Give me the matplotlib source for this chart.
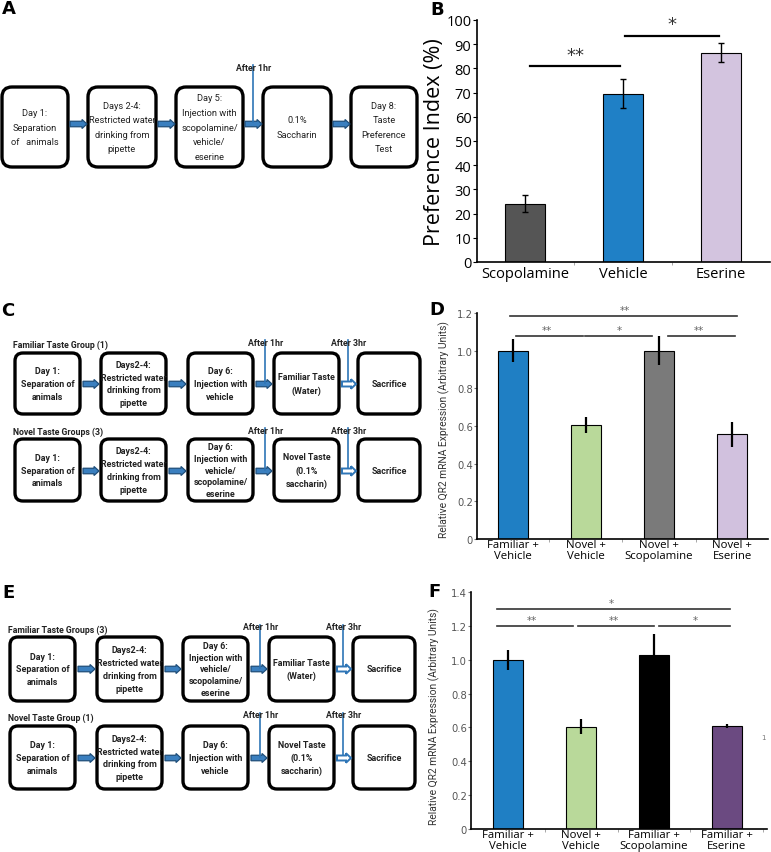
import matplotlib
matplotlib.use("Agg")
import matplotlib.pyplot as plt
from matplotlib.patches import FancyBboxPatch, FancyArrow
from matplotlib.ticker import FixedLocator, FixedFormatter
import numpy as np

# ---------------- data ----------------
b_cats = ["Scopolamine", "Vehicle", "Eserine"]
b_vals = [24.0, 69.5, 86.5]
b_errs = [3.5, 6.0, 4.0]
b_colors = ["#555555", "#1f80c6", "#d3c4df"]
b_sig = [(0.05, 0.97, 81, "**"), (1.02, 1.98, 93.5, "*")]

d_cats = ["Familiar +\nVehicle", "Novel +\nVehicle", "Novel +\nScopolamine", "Novel +\nEserine"]
d_vals = [1.0, 0.605, 1.0, 0.555]
d_errs = [0.06, 0.042, 0.077, 0.065]
d_colors = ["#1f7fc4", "#b9d99a", "#7a7a7a", "#d1c1de"]
d_sig = [(-0.04, 3.07, 1.185, "**", 1.53), (0.04, 0.96, 1.08, "**", 0.47),
         (0.99, 1.90, 1.08, "*", 1.45), (2.12, 3.04, 1.08, "**", 2.55)]

f_cats = ["Familiar +\nVehicle", "Novel +\nVehicle", "Familiar +\nScopolamine", "Familiar +\nEserine"]
f_vals = [1.0, 0.605, 1.03, 0.61]
f_errs = [0.06, 0.042, 0.12, 0.012]
f_colors = ["#1f7fc4", "#b9d99a", "#000000", "#6b4a81"]
f_sig = [(-0.15, 3.04, 1.30, "*", 1.42), (-0.15, 0.89, 1.20, "**", 0.32),
         (0.96, 2.00, 1.20, "**", 1.45), (2.07, 3.04, 1.20, "*", 2.56)]

d_yticks = [0, 0.2, 0.4, 0.6, 0.8, 1.0, 1.2]
d_yticklabels = ["0", "0.2", "0.4", "0.6", "0.8", "1.0", "1.2"]
f_yticks = [0, 0.2, 0.4, 0.6, 0.8, 1.0, 1.2, 1.4]
f_yticklabels = ["0", "0.2", "0.4", "0.6", "0.8", "1.0", "1.2", "1.4"]

a_texts = ["Day 1:\nSeparation\nof   animals", "Days 2-4:\nRestricted water\ndrinking from\npipette",
           "Day 5:\nInjection with\nscopolamine/\nvehicle/\neserine", "0.1%\nSaccharin",
           "Day 8:\nTaste\nPreference\nTest"]
c_row1 = ["Day 1:\nSeparation of\nanimals", "Days2-4:\nRestricted water\ndrinking from\npipette",
          "Day 6:\nInjection with\nvehicle", "Familiar Taste\n(Water)", "Sacrifice"]
c_row2 = ["Day 1:\nSeparation of\nanimals", "Days2-4:\nRestricted water\ndrinking from\npipette",
          "Day 6:\nInjection with\nvehicle/\nscopolamine/\neserine", "Novel Taste\n(0.1%\nsaccharin)", "Sacrifice"]
e_row1 = ["Day 1:\nSeparation of\nanimals", "Days2-4:\nRestricted water\ndrinking from\npipette",
          "Day 6:\nInjection with\nvehicle/\nscopolamine/\neserine", "Familiar Taste\n(Water)", "Sacrifice"]
e_row2 = ["Day 1:\nSeparation of\nanimals", "Days2-4:\nRestricted water\ndrinking from\npipette",
          "Day 6:\nInjection with\nvehicle", "Novel Taste\n(0.1%\nsaccharin)", "Sacrifice"]

NARROW = ["Roboto", "DejaVu Sans"]
W, H = 771, 853
fig = plt.figure(figsize=(W / 100, H / 100), dpi=100)
fig.patch.set_facecolor("white")

# overlay axes in pixel coordinates
ov = fig.add_axes([0, 0, 1, 1])
ov.set_xlim(0, W)
ov.set_ylim(H, 0)
ov.axis("off")

BLUE = "#2e75b6"
DBLUE = "#1f4e79"


def box(x, y, w, h, text, fs, bold, rs=9, ls=1.1):
    p = FancyBboxPatch((x, y), w, h, boxstyle=f"round,pad=0,rounding_size={rs}",
                       fc="white", ec="black", lw=2.4)
    ov.add_patch(p)
    ov.text(x + w / 2, y + h / 2, text, ha="center", va="center", fontsize=fs,
            family=NARROW, fontweight="bold" if bold else "normal",
            color="#222222", linespacing=ls)


def arrow(x1, x2, y, hollow=False):
    if hollow:
        a = FancyArrow(x1, y, x2 - x1, 0, width=5, head_width=9.5, head_length=5,
                       length_includes_head=True, fc="white", ec=BLUE, lw=1.4)
    else:
        a = FancyArrow(x1, y, x2 - x1, 0, width=5.5, head_width=9, head_length=5,
                       length_includes_head=True, fc="#3a7fbf", ec=DBLUE, lw=0.9)
    ov.add_patch(a)


def after(x, ytext, yline_end, label):
    ov.text(x + 1, ytext, label, ha="center", va="center", fontsize=6.3,
            family=NARROW, fontweight="bold", color="#222222")
    ov.plot([x, x], [ytext - 2, yline_end], color=BLUE, lw=1.2)


# panel labels
for lab, x, y in [("A", 9, 9), ("B", 437, 10), ("C", 8, 311), ("D", 437, 310),
                  ("E", 9, 593), ("F", 435, 592)]:
    ov.text(x, y, lab, ha="center", va="center", fontsize=13, fontweight="bold",
            family="DejaVu Sans")

# ---- panel A ----
a_x = [2, 88, 176, 263, 351]
a_w = [66, 68, 67, 68, 66]
for i, t in enumerate(a_texts):
    box(a_x[i], 88, a_w[i], 80, t, 6.7, False, rs=10, ls=1.8)
for i in range(4):
    arrow(a_x[i] + a_w[i] + 2, a_x[i + 1] - 1, 125)
after(253, 68, 123, "After 1hr")

# ---- panels C and E ----
def row(xs, ytop, h, texts, label, label_y, arrow_y, after_y):
    for i, t in enumerate(texts):
        n = t.count("\n") + 1
        ls = 1.42 if n >= 5 else 1.55
        box(xs[i], ytop, 65 if i < 4 else 62, h, t, 6.4, True, rs=8, ls=ls)
    for i in range(4):
        x1 = xs[i] + 65 + 3
        x2 = xs[i + 1] - 2
        arrow(x1, x2, arrow_y, hollow=(i == 3))
    ov.text(xs[0] - 2, label_y, label, ha="left", va="center", fontsize=6.3,
            family=NARROW, fontweight="bold", color="#222222")
    after((xs[2] + 65 + xs[3]) / 2 + 1, after_y, arrow_y - 1, "After 1hr")
    after((xs[3] + 65 + xs[4]) / 2 - 1, after_y, arrow_y - 3, "After 3hr")


c_x = [15, 101, 188, 274, 358]
row(c_x, 354, 61, c_row1, "Familiar Taste Group (1)", 345, 385, 343)
row(c_x, 440, 62, c_row2, "Novel Taste Groups (3)", 432, 472, 431)
e_x = [10, 97, 183, 269, 353]
row(e_x, 638, 64, e_row1, "Familiar Taste Groups (3)", 630, 670, 628)
row(e_x, 727, 63, e_row2, "Novel Taste Group (1)", 718, 759, 716)


def axes_px(left, right, top, bottom):
    return fig.add_axes([left / W, 1 - bottom / H, (right - left) / W, (bottom - top) / H])


def style(ax):
    for s in ["top", "right"]:
        ax.spines[s].set_visible(False)
    ax.spines["left"].set_linewidth(1.2)
    ax.spines["bottom"].set_linewidth(1.2)
    ax.patch.set_alpha(0)


# ---- panel B ----
axb = axes_px(477, 770, 21, 263)
style(axb)
xb = np.arange(len(b_cats))
axb.bar(xb, b_vals, width=0.41, color=b_colors, edgecolor="black", linewidth=0.8,
        yerr=b_errs, error_kw=dict(ecolor="black", elinewidth=1.0, capsize=2, capthick=1.0))
axb.set_xlim(-0.49, 2.5)
axb.set_ylim(0, 100)
axb.set_yticks(np.arange(0, 101, 10))
axb.set_xticks(xb)
axb.set_xticklabels(b_cats, fontsize=10.5, family="Open Sans")
axb.tick_params(axis="x", length=0, pad=3)
axb.tick_params(axis="y", labelsize=10.5, length=3, pad=1)
for lbl in axb.get_yticklabels():
    lbl.set_family("Open Sans")
axb.xaxis.set_minor_locator(FixedLocator([0.5, 1.5]))
axb.tick_params(axis="x", which="minor", length=2, color="#999999")
axb.set_ylabel("Preference Index (%)", fontsize=15.5, family="Open Sans")
axb.yaxis.set_label_coords(-0.11, 0.5)
for x1, x2, y, s in b_sig:
    axb.plot([x1, x2], [y, y], color="black", lw=1.6, clip_on=False)
    axb.text((x1 + x2) / 2, y + 1.0, s, ha="center", va="bottom", fontsize=13, color="#333333")


def qr_panel(ax, cats, vals, errs, colors, sig, yticks, ylabels, ylim, xlim):
    style(ax)
    x = np.arange(len(cats))
    ax.bar(x, vals, width=0.41, color=colors, edgecolor="black", linewidth=0.8,
           yerr=errs, error_kw=dict(ecolor="black", elinewidth=1.6, capsize=0))
    ax.set_xlim(*xlim)
    ax.set_ylim(*ylim)
    ax.yaxis.set_major_locator(FixedLocator(yticks))
    ax.yaxis.set_major_formatter(FixedFormatter(ylabels))
    ax.set_xticks(x)
    ax.set_xticklabels(cats, fontsize=8.2, family="Open Sans", linespacing=0.95)
    ax.tick_params(axis="x", length=0, pad=0)
    ax.tick_params(axis="y", labelsize=7.2, length=2, pad=1, labelcolor="#555555", color="#777777")
    ax.xaxis.set_minor_locator(FixedLocator([0.5, 1.5, 2.5, 3.5]))
    ax.tick_params(axis="x", which="minor", length=2, color="#999999")
    ax.set_ylabel("Relative QR2 mRNA Expression (Arbitrary Units)", fontsize=7.4,
                  family=NARROW, color="#333333")
    for x1, x2, y, s, xs in sig:
        ax.plot([x1, x2], [y, y], color="#333333", lw=1.2, clip_on=False)
        ax.text(xs, y + 0.005, s, ha="center", va="bottom", fontsize=7.5, color="#666666")


axd = axes_px(477, 768, 314, 540)
qr_panel(axd, d_cats, d_vals, d_errs, d_colors, d_sig, d_yticks, d_yticklabels,
         (0, 1.2), (-0.49, 3.49))
axd.yaxis.set_label_coords(-0.093, 0.49)

axf = axes_px(471, 767, 593, 830)
qr_panel(axf, f_cats, f_vals, f_errs, f_colors, f_sig, f_yticks, f_yticklabels,
         (0, 1.4), (-0.51, 3.55))
axf.yaxis.set_label_coords(-0.105, 0.48)

ov.text(763, 738, "1", fontsize=5, color="#777777", ha="center", va="center")

fig.savefig("out.png", dpi=100, facecolor="white")
